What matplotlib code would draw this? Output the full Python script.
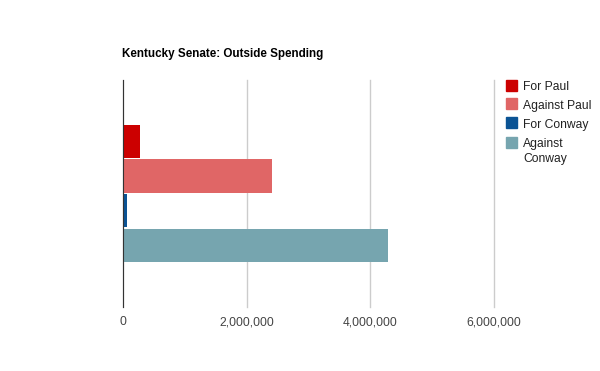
import matplotlib.pyplot as plt
from matplotlib.patches import Rectangle
from matplotlib.ticker import FuncFormatter

# Outside spending in the Kentucky Senate race (dollars)
series = ["For Paul", "Against Paul", "For Conway", "Against Conway"]
legend_labels = ["For Paul", "Against Paul", "For Conway", "Against\nConway"]
spending = [270000, 2415000, 60000, 4290000]
colors = ["#cc0000", "#e06666", "#0b5394", "#76a5af"]
xticks = [0, 2000000, 4000000, 6000000]

plt.rcParams["font.family"] = ["Liberation Sans", "DejaVu Sans"]

fig = plt.figure(figsize=(6, 3.71), dpi=100)
ax = fig.add_axes([0.205, 0.1725, 0.618, 0.6125])

# one category, four bars stacked around its centre
slot = 2 * 139 / 227 / 4
for i, (val, col) in enumerate(zip(spending, colors)):
    y = -2 * slot + slot * (i + 0.5)
    ax.barh(y, val, height=slot * 0.96, color=col, zorder=3)

ax.set_ylim(1, -1)
ax.set_xlim(0, 6000000)
ax.set_xticks(xticks)
ax.xaxis.set_major_formatter(FuncFormatter(lambda v, p: f"{int(v):,}"))
ax.set_yticks([])
ax.tick_params(axis="x", length=0, pad=6.5, labelsize=8.7, labelcolor="#444444")
ax.grid(axis="x", color="#cccccc", linewidth=1, zorder=0)
for gl in ax.get_xgridlines():
    gl.set_clip_on(False)
for s in ["top", "right", "bottom"]:
    ax.spines[s].set_visible(False)
ax.spines["left"].set_color("#333333")
ax.spines["left"].set_zorder(4)

fig.text(0.203, 1 - 54 / 371, "Kentucky Senate: Outside Spending",
         fontsize=8.4, fontweight="bold", va="center", ha="left")

# legend drawn by hand, Google Charts style
row_y = [85, 103.5, 122.5, 142.5]
for lab, col, yc in zip(legend_labels, colors, row_y):
    fig.add_artist(Rectangle((506 / 600, 1 - (yc + 5.5) / 371), 11 / 600, 11 / 371,
                             color=col, transform=fig.transFigure))
    fig.text(523 / 600, 1 - (yc - 4) / 371, lab, fontsize=8.7, color="#222222",
             va="top", ha="left", linespacing=1.25)

fig.savefig("out.png", dpi=100)
